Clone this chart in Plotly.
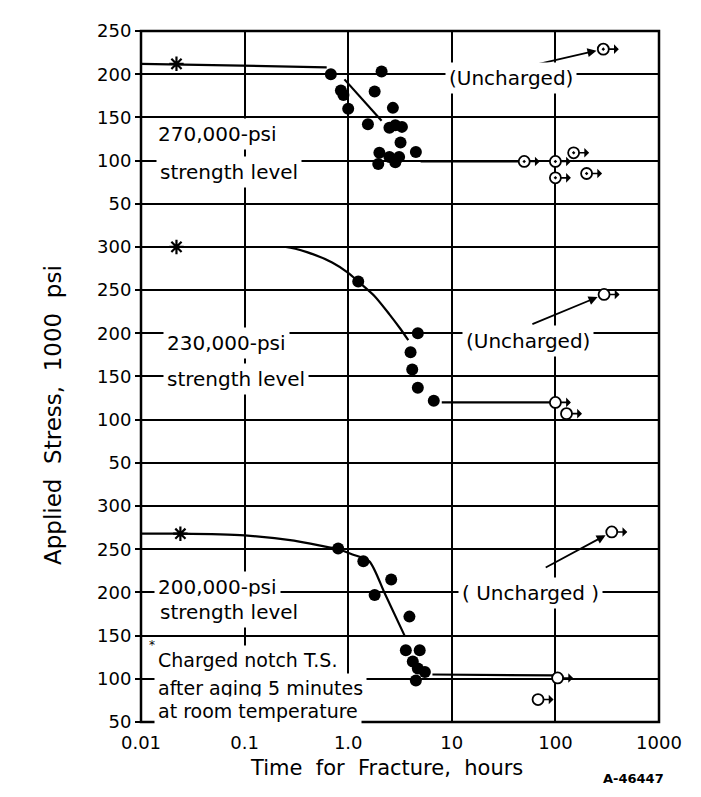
import numpy as np
import plotly.graph_objects as go
from plotly.subplots import make_subplots

FONT = "DejaVu Sans"

# ---------------- axis ticks ----------------
x_tickvals = [0.01, 0.1, 1, 10, 100, 1000]
x_ticktext = ["0.01", "0.1", "1.0", "10", "100", "1000"]
top_yticks = [50, 100, 150, 200, 250]
mid_yticks = [50, 100, 150, 200, 250, 300]
bot_yticks = [50, 100, 150, 200, 250, 300]

# ---------------- 270,000-psi strength level (top) ----------------
top_charged_t = [0.68, 2.1, 0.85, 0.9, 1.8, 1.0, 2.7, 1.55, 2.5, 2.85, 3.3, 3.2, 2.0, 1.95, 2.5, 2.85, 3.1, 4.5]
top_charged_s = [200, 203, 181, 176, 180, 160, 161, 142, 138, 141, 139, 121, 109, 96, 104, 98, 104, 110]
top_runout_t = [50, 100, 150, 100, 200]
top_runout_s = [99, 99, 109, 80, 85]
top_unch_t = [290]
top_unch_s = [229]
top_notch_t = [0.022]
top_notch_s = [212]
top_notch_line_t = [0.01, 0.62]
top_notch_line_s = [212, 208]
top_fit_t = [0.92, 2.1]
top_fit_s = [194, 146]
top_level_t = [5, 48]
top_level_s = [99, 99]
top_unch_line_t = [54, 290]
top_unch_line_s = [209, 229]

# ---------------- 230,000-psi strength level (middle) ----------------
mid_charged_t = [1.25, 4.7, 4.0, 4.15, 4.7, 6.7]
mid_charged_s = [260, 200, 178, 158, 137, 122]
mid_runout_t = [100, 128]
mid_runout_s = [120, 107]
mid_unch_t = [295]
mid_unch_s = [245]
mid_notch_t = [0.022]
mid_notch_s = [300]
mid_fit_t = [0.01, 0.25, 0.4, 0.7, 1.0, 1.25, 1.8, 2.5, 3.2, 3.8]
mid_fit_s = [300, 300, 294, 282, 270, 260, 243, 222, 205, 192]
mid_level_t = [8, 95]
mid_level_s = [120, 120]
mid_unch_line_t = [58, 295]
mid_unch_line_s = [210, 245]

# ---------------- 200,000-psi strength level (bottom) ----------------
bot_charged_t = [0.8, 1.4, 2.6, 1.8, 3.9, 3.6, 4.9, 4.2, 4.7, 5.5, 4.5]
bot_charged_s = [251, 236, 215, 197, 172, 133, 133, 120, 112, 108, 98]
bot_runout_t = [105, 68]
bot_runout_s = [101, 76]
bot_unch_t = [350]
bot_unch_s = [270]
bot_notch_t = [0.024]
bot_notch_s = [268]
bot_fit_t = [0.01, 0.024, 0.1, 0.3, 0.6, 0.8, 1.1, 1.6, 2.25, 3.5]
bot_fit_s = [268, 268, 266, 260, 253, 250, 244, 236, 199, 150]
bot_level_t = [6.5, 100]
bot_level_s = [105, 104]
bot_unch_line_t = [78, 350]
bot_unch_line_s = [228, 270]

W, H = 701, 797
ML, MR, MT, MB = 133, 50, 14, 83
PW, PH = W - ML - MR, H - MT - MB


def px(xp, yp):
    return (xp - ML) / PW, (H - MB - yp) / PH


fig = make_subplots(rows=3, cols=1, shared_xaxes=True, vertical_spacing=0,
                    row_heights=[5 / 16, 6 / 16, 5 / 16])

annotations = []

panels = [
    (1, top_charged_t, top_charged_s, top_runout_t, top_runout_s, top_unch_t, top_unch_s,
     top_notch_t, top_notch_s, [(top_notch_line_t, top_notch_line_s), (top_fit_t, top_fit_s),
                                (top_level_t, top_level_s)],
     (top_unch_line_t, top_unch_line_s), "circle-dot"),
    (2, mid_charged_t, mid_charged_s, mid_runout_t, mid_runout_s, mid_unch_t, mid_unch_s,
     mid_notch_t, mid_notch_s, [(mid_fit_t, mid_fit_s), (mid_level_t, mid_level_s)],
     (mid_unch_line_t, mid_unch_line_s), "circle"),
    (3, bot_charged_t, bot_charged_s, bot_runout_t, bot_runout_s, bot_unch_t, bot_unch_s,
     bot_notch_t, bot_notch_s, [(bot_fit_t, bot_fit_s), (bot_level_t, bot_level_s)],
     (bot_unch_line_t, bot_unch_line_s), "circle"),
]

for (row, ct, cs, rt, rs, ut, us, nt, ns, lines, uline, osym) in panels:
    xr = "x" if row == 1 else f"x{row}"
    yr = "y" if row == 1 else f"y{row}"
    for lt, ls in lines:
        fig.add_trace(go.Scatter(x=lt, y=ls, mode="lines",
                                 line=dict(color="black", width=2.2, shape="spline", smoothing=0.7),
                                 hoverinfo="skip", showlegend=False, cliponaxis=False),
                      row=row, col=1)
    fig.add_trace(go.Scatter(x=ct, y=cs, mode="markers",
                             marker=dict(symbol="circle", size=12, color="black"),
                             showlegend=False), row=row, col=1)
    fig.add_trace(go.Scatter(x=nt, y=ns, mode="markers", cliponaxis=False,
                             marker=dict(symbol="asterisk-open", size=12, color="black",
                                         line=dict(color="black", width=2.2)),
                             showlegend=False), row=row, col=1)
    fig.add_trace(go.Scatter(x=list(rt) + list(ut), y=list(rs) + list(us), mode="markers",
                             marker=dict(symbol=osym, size=11, color="white",
                                         line=dict(color="black", width=1.8)),
                             showlegend=False), row=row, col=1)
    # uncharged line with arrowhead pointing at the uncharged specimen
    annotations.append(dict(x=np.log10(uline[0][1]), y=uline[1][1], xref=xr, yref=yr,
                            ax=np.log10(uline[0][0]), ay=uline[1][0], axref=xr, ayref=yr,
                            showarrow=True, arrowhead=2, arrowsize=1.0, arrowwidth=1.8,
                            arrowcolor="black", standoff=7, text=""))
    # run-out arrows on open circles
    for t, s in zip(list(rt) + list(ut), list(rs) + list(us)):
        annotations.append(dict(x=np.log10(t), y=s, xref=xr, yref=yr, ax=17, ay=0,
                                showarrow=True, arrowside="start", arrowhead=2,
                                arrowsize=0.8, arrowwidth=1.6, arrowcolor="black",
                                standoff=5, text=""))

# ---------------- text labels ----------------
def label(text, xp, yp, size=20, anchor="left", bg=True):
    x, y = px(xp, yp)
    annotations.append(dict(text=text, x=x, y=y, xref="paper", yref="paper",
                            xanchor=anchor, yanchor="middle", showarrow=False,
                            font=dict(family=FONT, size=size, color="black"),
                            bgcolor="white" if bg else None, borderpad=3))

label("270,000-psi", 146, 118)
label("strength level", 148, 157)
label("230,000-psi", 155, 330)
label("strength level", 155, 367)
label("200,000-psi", 146, 577)
label("strength level", 148, 603)
label("(Uncharged)", 503, 62, anchor="center")
label("(Uncharged)", 520, 328, anchor="center")
label("( Uncharged )", 522, 583, anchor="center")
label("Charged notch T.S.", 146, 651, size=19)
label("after aging 5 minutes", 146, 680, size=19)
label("at room temperature", 146, 703, size=19)
label("*", 137, 636, size=12, bg=False)

xt, yt = px(378, 775)
annotations.append(dict(text="Time\u00a0 for\u00a0 Fracture,\u00a0 hours", x=xt, y=yt,
                        xref="paper", yref="paper", showarrow=False,
                        font=dict(family=FONT, size=21, color="black")))
xt, yt = px(30, 403)
annotations.append(dict(text="Applied\u00a0 Stress,\u00a0 1000\u00a0 psi",
                        x=xt, y=yt, xref="paper", yref="paper", showarrow=False,
                        textangle=-90, font=dict(family=FONT, size=23, color="black")))
xt, yt = px(658, 781)
annotations.append(dict(text="<b>A-46447</b>", x=xt, y=yt, xref="paper", yref="paper",
                        showarrow=False, font=dict(family=FONT, size=13, color="black")))

# ---------------- axes ----------------
for row in (1, 2, 3):
    fig.update_xaxes(type="log", range=[-2, 3], tickvals=x_tickvals, ticktext=x_ticktext,
                     showgrid=True, gridcolor="black", gridwidth=2,
                     showline=False, ticks="", showticklabels=(row == 3),
                     ticklabelstandoff=8,
                     tickfont=dict(family=FONT, size=18, color="black"),
                     row=row, col=1)

yranges = {1: [0, 250], 2: [0, 300], 3: [50, 300]}
yticks = {1: top_yticks, 2: mid_yticks, 3: bot_yticks}
for row in (1, 2, 3):
    fig.update_yaxes(range=yranges[row], tickvals=yticks[row],
                     ticktext=[str(v) for v in yticks[row]],
                     showgrid=True, gridcolor="black", gridwidth=2, zeroline=False,
                     showline=False,
                     ticks="outside", ticklen=5, tickwidth=2, tickcolor="black",
                     tickfont=dict(family=FONT, size=18, color="black"),
                     row=row, col=1)

shapes = [
    dict(type="rect", xref="paper", yref="paper", x0=0, x1=1, y0=0, y1=1,
         line=dict(color="black", width=2.5), fillcolor="rgba(0,0,0,0)", layer="above"),
    dict(type="line", xref="paper", yref="paper", x0=0, x1=1, y0=5 / 16, y1=5 / 16,
         line=dict(color="black", width=2), layer="below"),
    dict(type="line", xref="paper", yref="paper", x0=0, x1=1, y0=11 / 16, y1=11 / 16,
         line=dict(color="black", width=2), layer="below"),
]

fig.update_layout(width=W, height=H, margin=dict(l=ML, r=MR, t=MT, b=MB),
                  plot_bgcolor="white", paper_bgcolor="white", showlegend=False,
                  annotations=annotations, shapes=shapes,
                  font=dict(family=FONT, color="black"))

fig.write_html("out.html")
